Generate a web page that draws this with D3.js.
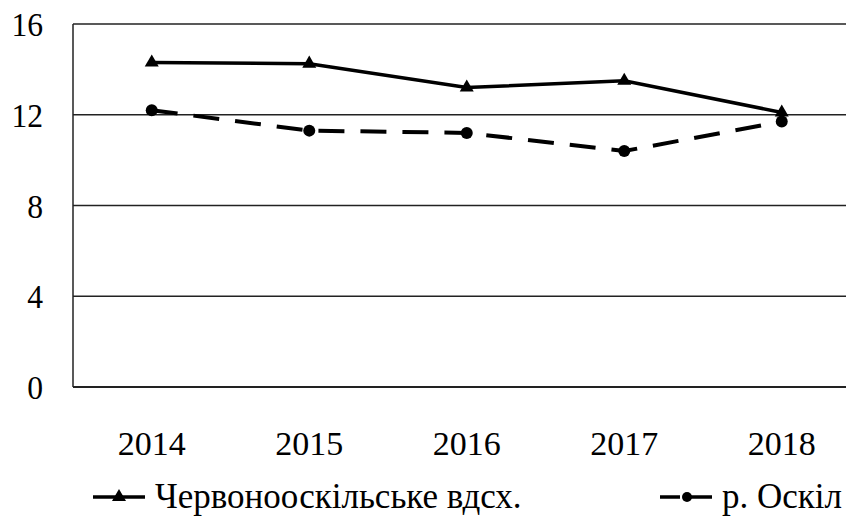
<!DOCTYPE html>
<html>
<head>
<meta charset="utf-8">
<script src="https://cdn.jsdelivr.net/npm/d3@7"></script>
<style>
  html, body { margin: 0; padding: 0; background: #fff; }
  svg { display: block; }
</style>
</head>
<body>
<svg id="chart" width="846" height="517"></svg>
<script>
const years = ['2014', '2015', '2016', '2017', '2018'];
const reservoir = [14.3, 14.25, 13.2, 13.5, 12.1];
const river = [12.2, 11.3, 11.2, 10.4, 11.7];
const yTicks = [0, 4, 8, 12, 16];
const seriesNames = ['Червонооскільське вдсх.', 'р. Оскіл'];

const width = 846;
const height = 517;
const margin = { top: 24, left: 73, bottom: 130 };
const plotW = 787.5;
const plotH = height - margin.top - margin.bottom;
const font = "'Liberation Serif', 'Times New Roman', serif";

const svg = d3.select('#chart');
const g = svg.append('g').attr('transform', `translate(${margin.left},${margin.top})`);

const x = d3.scaleBand().domain(years).range([0, plotW]);
const y = d3.scaleLinear().domain([0, 16]).range([plotH, 0]);
const cx = d => x(d) + x.bandwidth() / 2;

// serif label, anchored at (px, py), optionally squeezed
function label(sel, px, py, txt, size, anchor, sx) {
  return sel.append('text')
    .attr('transform', `translate(${px},${py}) scale(${sx},1)`)
    .attr('text-anchor', anchor)
    .style('font-family', font)
    .style('font-size', size + 'px')
    .attr('fill', '#000')
    .text(txt);
}

// gridlines
g.selectAll('line.grid')
  .data(yTicks)
  .enter()
  .append('line')
  .attr('class', 'grid')
  .attr('x1', 0)
  .attr('x2', plotW)
  .attr('y1', d => y(d))
  .attr('y2', d => y(d))
  .attr('stroke', '#222')
  .attr('stroke-width', d => (d === 0 ? 2 : 1.5));

g.append('line')
  .attr('x1', 0).attr('x2', 0)
  .attr('y1', y(16)).attr('y2', y(0))
  .attr('stroke', '#222').attr('stroke-width', 1.5);

// tick labels
yTicks.forEach(t => label(g, -30, y(t) + 12, String(t), 34, 'end', 0.93));
years.forEach(yr => label(g, cx(yr), plotH + 68, yr, 34, 'middle', 1));

const line = d3.line().x(d => cx(d.year)).y(d => y(d.value));
const resData = years.map((yr, i) => ({ year: yr, value: reservoir[i] }));
const rivData = years.map((yr, i) => ({ year: yr, value: river[i] }));
const tri = d3.symbol().type(d3.symbolTriangle).size(85);

// river (dashed)
g.append('path')
  .datum(rivData)
  .attr('d', line)
  .attr('fill', 'none')
  .attr('stroke', '#000')
  .attr('stroke-width', 4)
  .attr('stroke-dasharray', '26,16');

g.selectAll('circle.riv')
  .data(rivData)
  .enter()
  .append('circle')
  .attr('class', 'riv')
  .attr('cx', d => cx(d.year))
  .attr('cy', d => y(d.value))
  .attr('r', 6)
  .attr('fill', '#000');

// reservoir (solid)
g.append('path')
  .datum(resData)
  .attr('d', line)
  .attr('fill', 'none')
  .attr('stroke', '#000')
  .attr('stroke-width', 3.5);

g.selectAll('path.res')
  .data(resData)
  .enter()
  .append('path')
  .attr('class', 'res')
  .attr('d', tri)
  .attr('transform', d => `translate(${cx(d.year)},${y(d.value)})`)
  .attr('fill', '#000');

// legend
const legend = svg.append('g').attr('transform', 'translate(0,497)');
const items = [
  { name: seriesNames[0], x0: 93, dash: null, marker: 'tri' },
  { name: seriesNames[1], x0: 660, dash: '20,7,26', marker: 'circle' }
];
items.forEach(it => {
  const lg = legend.append('g').attr('transform', `translate(${it.x0},0)`);
  lg.append('line')
    .attr('x1', 0).attr('x2', 52)
    .attr('y1', 0).attr('y2', 0)
    .attr('stroke', '#000')
    .attr('stroke-width', 3.5)
    .attr('stroke-dasharray', it.dash);
  if (it.marker === 'tri') {
    lg.append('path').attr('d', tri).attr('transform', 'translate(26,0)').attr('fill', '#000');
  } else {
    lg.append('circle').attr('cx', 27).attr('cy', 0).attr('r', 5).attr('fill', '#000');
  }
  label(lg, 62, 11, it.name, 35, 'start', 1);
});
</script>
</body>
</html>
